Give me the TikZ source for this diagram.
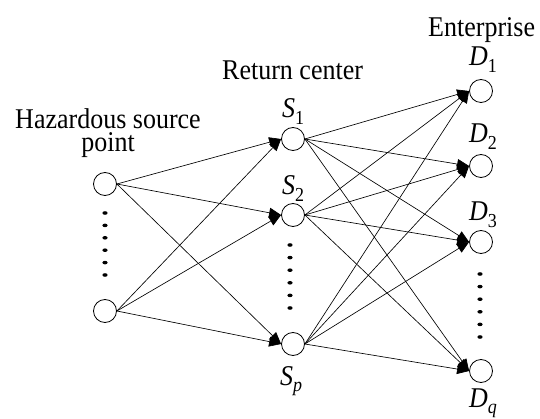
\documentclass[tikz,border=0pt]{standalone}
\usepackage{fontspec}
\setmainfont{Liberation Serif}
\usetikzlibrary{arrows.meta}
\newcommand\lbsub[1]{\raisebox{-6pt}{\fontsize{18}{18}\selectfont #1}}
\newcommand\tallt[1]{\scalebox{1}[1.1]{#1}}
\begin{document}
\begin{tikzpicture}[x=1pt,y=-1pt,
 pnode/.style={circle,draw,line width=0.8pt,minimum size=23pt,inner sep=0pt},
 lbl/.style={anchor=base west,inner sep=0pt,font=\fontsize{26}{28}\selectfont},
 ttl/.style={anchor=base,inner sep=0pt,align=center,font=\fontsize{26}{24}\selectfont},
 arr/.style={line width=0.65pt,-{Triangle[length=12pt,width=10pt]}}]
\useasboundingbox (0,0) rectangle (540,419);
% nodes
\node[pnode] (H1) at (105,184) {};
\node[pnode] (H2) at (105,311) {};
\node[pnode] (S1) at (293,139) {};
\node[pnode] (S2) at (293,215) {};
\node[pnode] (Sp) at (293,344) {};
\node[pnode] (D1) at (481,91) {};
\node[pnode] (D2) at (481,166) {};
\node[pnode] (D3) at (481,242) {};
\node[pnode] (Dq) at (481,371) {};
% titles
\node[ttl] (t1) at (108,152) {\tallt{Hazardous source}\\[-1pt]\tallt{point}};
\node[lbl] (t3) at (222,80) {\tallt{Return center}};
\node[lbl] (t4) at (428,37) {\tallt{Enterprise}};
% labels
\node[lbl] (lS1) at (282,118) {\tallt{\textit{S}\lbsub{1}}};
\node[lbl] (lS2) at (282,195) {\tallt{\textit{S}\lbsub{2}}};
\node[lbl] (lSp) at (280,385) {\tallt{\textit{S}\lbsub{\textit{p}}}};
\node[lbl] (lD1) at (469,66) {\tallt{\textit{D}\lbsub{1}}};
\node[lbl] (lD2) at (469,143) {\tallt{\textit{D}\lbsub{2}}};
\node[lbl] (lD3) at (469,221) {\tallt{\textit{D}\lbsub{3}}};
\node[lbl] (lDq) at (469,407) {\tallt{\textit{D}\lbsub{\textit{q}}}};
% dots
\foreach \y in {0,...,5} {
  \fill (105,213+12.4*\y) ellipse (2.6pt and 1.8pt);
  \fill (290,245+12.6*\y) ellipse (2.6pt and 1.8pt);
  \fill (480,274+12.6*\y) ellipse (2.6pt and 1.8pt);
}
% edges
\foreach \a in {H1,H2} \foreach \b in {S1,S2,Sp}
  \draw[arr] (\a.east) -- (\b.west);
\foreach \a in {S1,S2,Sp} \foreach \b in {D1,D2,D3,Dq}
  \draw[arr] (\a.east) -- (\b.west);
\end{tikzpicture}
\end{document}
